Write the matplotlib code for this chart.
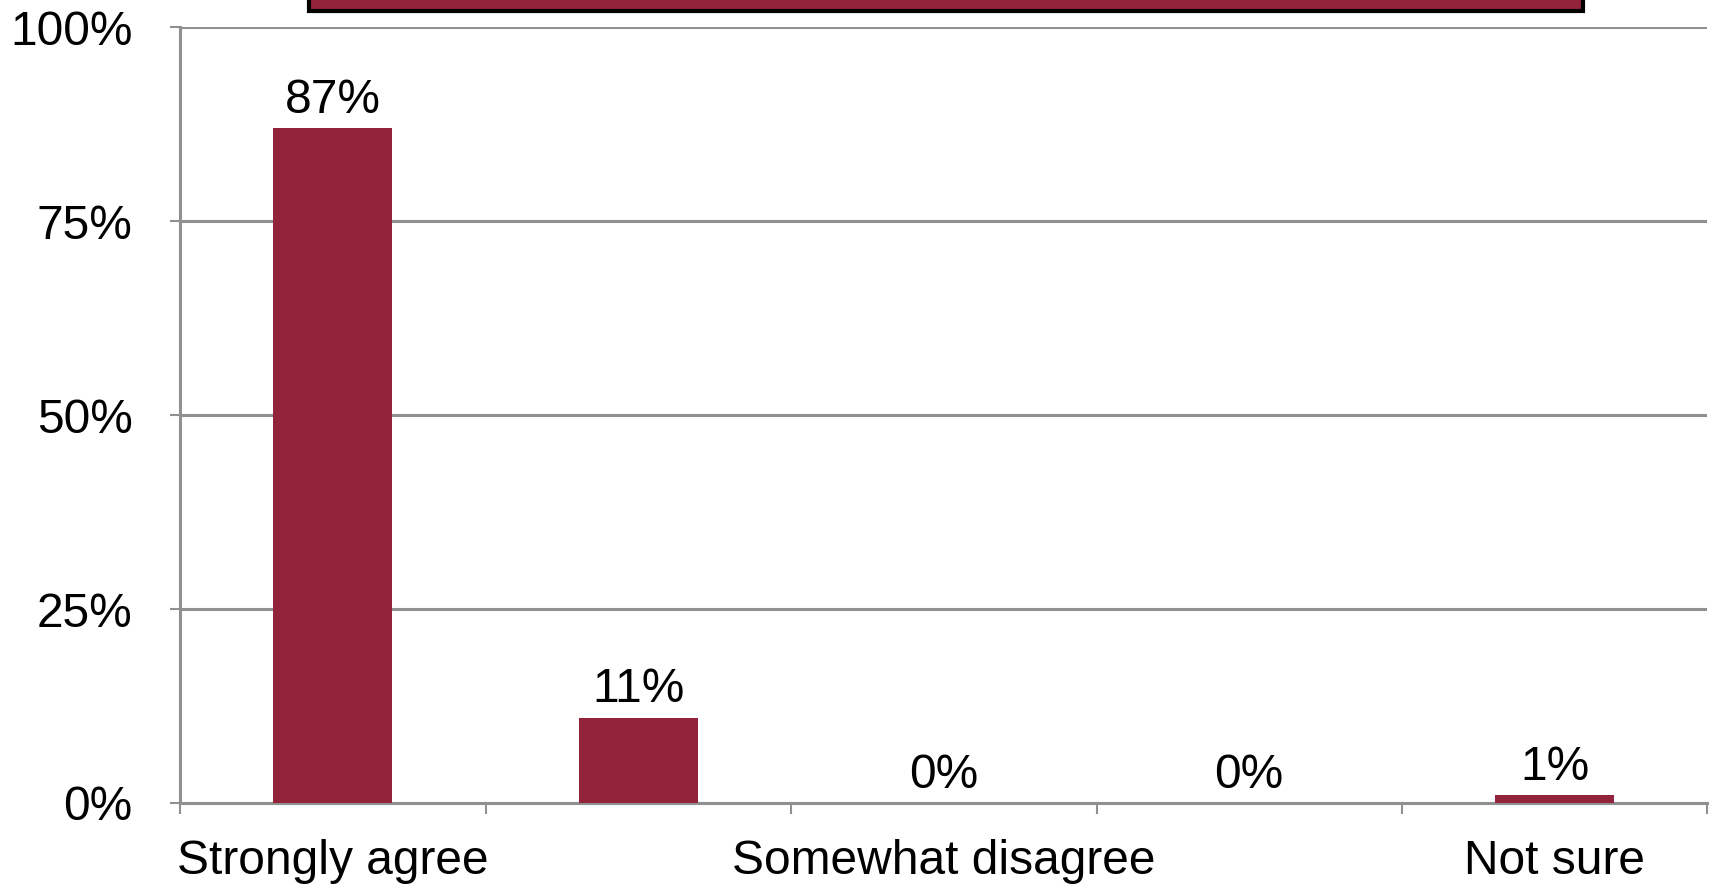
import matplotlib
matplotlib.use('Agg')
import numpy as np
import matplotlib.pyplot as plt
from matplotlib.patches import Rectangle

categories = ['Strongly agree', 'Somewhat agree', 'Somewhat disagree',
              'Strongly disagree', 'Not sure']
values = [87, 11, 0, 0, 1]
y_ticks = [0, 25, 50, 75, 100]
y_tick_labels = ['0%', '25%', '50%', '75%', '100%']

bar_color = '#93233B'
grid_color = '#909090'

plt.rcParams['font.family'] = ['Liberation Sans', 'DejaVu Sans']

fig = plt.figure(figsize=(17.2, 8.93), dpi=100)
ax = fig.add_axes([0.1047, 0.1008, 0.888, 0.8685])

x = np.arange(len(categories))
ax.bar(x, values, width=0.39, color=bar_color, zorder=3)

for xi, v in zip(x, values):
    ax.annotate(f'{v}%', (xi, v), xytext=(0, 11), textcoords='offset points',
                ha='center', va='baseline', fontsize=34.5, color='black')

ax.set_xlim(-0.5, len(categories) - 0.5)
ax.set_ylim(0, 100)
ax.set_yticks(y_ticks)
ax.set_yticklabels(y_tick_labels, fontsize=34.5)

# only every other category label fits
ax.set_xticks(x[::2])
ax.set_xticklabels(categories[::2], fontsize=34.5)
ax.set_xticks(np.arange(len(categories) + 1) - 0.5, minor=True)
ax.tick_params(axis='x', which='major', length=0, pad=26)
ax.tick_params(axis='x', which='minor', length=8, width=1.5, color=grid_color)
ax.tick_params(axis='y', length=7, width=1.5, color=grid_color, pad=27)

ax.yaxis.grid(True, color=grid_color, linewidth=2.2, zorder=0)
ax.set_axisbelow(True)
for side in ['top', 'right']:
    ax.spines[side].set_visible(False)
for side in ['left', 'bottom']:
    ax.spines[side].set_color(grid_color)
    ax.spines[side].set_linewidth(2.2)

# title box cut off at the top
fig.patches.append(Rectangle((309 / 1720, 1 - 11 / 893), 1274 / 1720, 0.05,
                             transform=fig.transFigure, facecolor=bar_color,
                             edgecolor='black', linewidth=3, clip_on=False))

fig.savefig('out.png', dpi=100)
